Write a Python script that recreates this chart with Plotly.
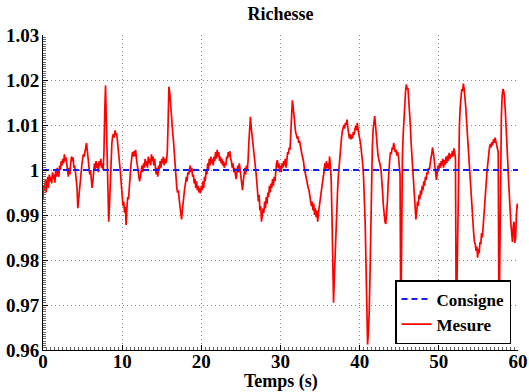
import plotly.graph_objects as go

# Sampling times (s): one sample every 0.1 s from 0 to 60
temps = [i / 10 for i in range(601)]

mesure = [
    0.9935, 0.9965, 0.9955, 0.9980, 0.9950, 0.9975, 0.9985, 0.9960, 0.9990, 0.9975,
    0.9985, 0.9970, 0.9995, 0.9980, 0.9990, 0.9972, 0.9998, 0.9985, 1.0005, 0.9990,
    0.9985, 1.0010, 1.0000, 1.0020, 1.0010, 1.0025, 1.0015, 1.0035, 1.0020, 1.0028,
    1.0010, 1.0000, 0.9985, 1.0005, 0.9990, 1.0015, 1.0030, 1.0020, 1.0028, 1.0005,
    1.0010, 0.9995, 0.9980, 0.9960, 0.9915, 0.9935, 0.9960, 0.9985, 0.9995, 1.0010,
    1.0025, 1.0035, 1.0030, 1.0045, 1.0050, 1.0060, 1.0045, 1.0025, 1.0005, 0.9990,
    1.0000, 0.9980, 0.9960, 0.9975, 0.9995, 1.0015, 1.0000, 1.0020, 1.0005, 1.0015,
    0.9995, 1.0020, 1.0010, 1.0025, 1.0005, 1.0015, 1.0000, 1.0040, 1.0130, 1.0188,
    1.0110, 1.0020, 0.9940, 0.9885, 0.9920, 0.9980, 1.0030, 1.0060, 1.0075, 1.0080,
    1.0072, 1.0088, 1.0078, 1.0082, 1.0065, 1.0050, 1.0030, 1.0010, 0.9990, 0.9970,
    0.9935, 0.9920, 0.9930, 0.9905, 0.9918, 0.9878, 0.9915, 0.9940, 0.9935, 0.9965,
    0.9990, 1.0010, 1.0025, 1.0040, 1.0030, 1.0042, 1.0030, 1.0045, 1.0025, 1.0010,
    1.0000, 0.9990, 0.9975, 0.9985, 1.0000, 1.0010, 0.9995, 1.0015, 1.0005, 1.0025,
    1.0010, 1.0020, 1.0005, 1.0030, 1.0015, 1.0025, 1.0010, 1.0035, 1.0020, 1.0030,
    1.0010, 1.0025, 1.0005, 0.9990, 1.0005, 0.9985, 1.0010, 1.0000, 1.0020, 1.0005,
    1.0025, 1.0015, 1.0030, 1.0010, 1.0025, 1.0015, 1.0020, 1.0040, 1.0100, 1.0185,
    1.0175, 1.0150, 1.0110, 1.0095, 1.0080, 1.0060, 1.0035, 1.0010, 0.9975, 0.9960,
    0.9950, 0.9955, 0.9935, 0.9920, 0.9905, 0.9890, 0.9910, 0.9930, 0.9945, 0.9960,
    0.9970, 0.9985, 0.9975, 0.9995, 0.9990, 1.0005, 1.0010, 0.9995, 1.0005, 0.9985,
    0.9990, 0.9970, 0.9980, 0.9960, 0.9975, 0.9955, 0.9965, 0.9950, 0.9960, 0.9948,
    0.9965, 0.9955, 0.9975, 0.9960, 0.9985, 0.9975, 1.0000, 0.9990, 1.0015, 1.0000,
    1.0025, 1.0010, 1.0030, 1.0015, 1.0025, 1.0010, 1.0030, 1.0020, 1.0040, 1.0025,
    1.0045, 1.0030, 1.0040, 1.0020, 1.0030, 1.0015, 1.0025, 1.0010, 1.0020, 1.0005,
    1.0015, 1.0010, 1.0030, 1.0025, 1.0040, 1.0030, 1.0042, 1.0025, 1.0020, 1.0005,
    1.0015, 0.9995, 1.0005, 0.9990, 0.9980, 0.9995, 1.0010, 0.9995, 1.0015, 1.0000,
    0.9985, 0.9970, 0.9955, 0.9975, 0.9995, 1.0005, 0.9990, 1.0010, 1.0000, 1.0020,
    1.0060, 1.0110, 1.0118, 1.0095, 1.0080, 1.0060, 1.0045, 1.0030, 1.0010, 0.9995,
    0.9975, 0.9955, 0.9930, 0.9945, 0.9910, 0.9920, 0.9885, 0.9900, 0.9915, 0.9905,
    0.9930, 0.9915, 0.9940, 0.9925, 0.9950, 0.9940, 0.9965, 0.9950, 0.9970, 0.9960,
    0.9980, 0.9965, 0.9985, 0.9975, 1.0000, 1.0015, 1.0022, 1.0005, 1.0015, 0.9995,
    1.0010, 0.9995, 1.0015, 1.0005, 1.0020, 1.0010, 1.0025, 1.0005, 1.0020, 1.0040,
    1.0035, 1.0050, 1.0045, 1.0080, 1.0130, 1.0155, 1.0140, 1.0115, 1.0100, 1.0085,
    1.0078, 1.0070, 1.0075, 1.0060, 1.0065, 1.0050, 1.0045, 1.0035, 1.0030, 1.0020,
    1.0005, 0.9995, 0.9985, 0.9975, 0.9970, 0.9960, 0.9955, 0.9945, 0.9935, 0.9920,
    0.9930, 0.9910, 0.9925, 0.9900, 0.9915, 0.9895, 0.9910, 0.9885, 0.9905, 0.9920,
    0.9935, 0.9945, 0.9960, 0.9970, 0.9985, 0.9995, 1.0015, 1.0000, 1.0020, 1.0005,
    1.0015, 1.0000, 1.0030, 1.0010, 0.9980, 0.9900, 0.9800, 0.9705, 0.9760, 0.9820,
    0.9860, 0.9900, 0.9950, 0.9985, 1.0010, 1.0030, 1.0055, 1.0070, 1.0085, 1.0095,
    1.0100, 1.0092, 1.0105, 1.0100, 1.0112, 1.0095, 1.0085, 1.0070, 1.0080, 1.0068,
    1.0078, 1.0070, 1.0085, 1.0078, 1.0090, 1.0098, 1.0088, 1.0105, 1.0090, 1.0080,
    1.0075, 1.0060, 1.0045, 1.0030, 1.0010, 0.9980, 0.9940, 0.9880, 0.9790, 0.9700,
    0.9612, 0.9640, 0.9680, 0.9760, 0.9880, 0.9990, 1.0050, 1.0090, 1.0110, 1.0120,
    1.0100, 1.0075, 1.0050, 1.0035, 1.0025, 1.0020, 1.0010, 1.0000, 0.9980, 0.9950,
    0.9920, 0.9900, 0.9885, 0.9880, 0.9900, 0.9930, 0.9970, 1.0005, 1.0025, 1.0040,
    1.0035, 1.0050, 1.0045, 1.0060, 1.0050, 1.0040, 1.0045, 1.0032, 1.0040, 1.0030,
    1.0010, 0.9990, 0.9640, 0.9900, 1.0030, 1.0080, 1.0120, 1.0150, 1.0175, 1.0190,
    1.0180, 1.0182, 1.0160, 1.0130, 1.0100, 1.0060, 1.0030, 0.9990, 0.9960, 0.9925,
    0.9900, 0.9890, 0.9905, 0.9930, 0.9920, 0.9945, 0.9935, 0.9955, 0.9945, 0.9965,
    0.9955, 0.9975, 0.9965, 0.9985, 0.9978, 0.9995, 0.9990, 1.0005, 1.0000, 1.0020,
    1.0025, 1.0035, 1.0050, 1.0040, 1.0020, 1.0005, 0.9990, 0.9978, 0.9995, 1.0010,
    1.0000, 1.0015, 1.0005, 1.0020, 1.0010, 1.0025, 1.0005, 1.0022, 1.0012, 1.0030,
    1.0015, 1.0032, 1.0020, 1.0038, 1.0025, 1.0035, 1.0028, 1.0042, 1.0030, 1.0048,
    1.0040, 1.0025, 0.9640, 0.9750, 0.9950, 1.0050, 1.0100, 1.0140, 1.0165, 1.0180,
    1.0175, 1.0192, 1.0180, 1.0165, 1.0140, 1.0110, 1.0080, 1.0050, 1.0020, 0.9990,
    0.9960, 0.9930, 0.9900, 0.9880, 0.9860, 0.9840, 0.9835, 0.9820, 0.9830, 0.9805,
    0.9825, 0.9815, 0.9840, 0.9835, 0.9860, 0.9850, 0.9880, 0.9890, 0.9920, 0.9950,
    0.9975, 1.0000, 1.0020, 1.0040, 1.0050, 1.0058, 1.0050, 1.0062, 1.0055, 1.0068,
    1.0060, 1.0072, 1.0065, 1.0060, 1.0050, 1.0040, 0.9640, 0.9800, 1.0000, 1.0120,
    1.0165, 1.0180, 1.0175, 1.0160, 1.0130, 1.0100, 1.0060, 1.0020, 0.9980, 0.9940,
    0.9900, 0.9880, 0.9860, 0.9840, 0.9875, 0.9885, 0.9838, 0.9850, 0.9900, 0.9925,
    0.9915,
]
assert len(mesure) == len(temps)

consigne_t = [0, 60]
consigne_v = [1.0, 1.0]

x_ticks = [0, 10, 20, 30, 40, 50, 60]
y_ticks = [0.96, 0.97, 0.98, 0.99, 1.0, 1.01, 1.02, 1.03]
y_ticktext = ["0.96", "0.97", "0.98", "0.99", "1", "1.01", "1.02", "1.03"]

FONT = "Liberation Serif"
ftick = dict(family=FONT, size=19, color="black", weight="bold")
f18 = dict(family=FONT, size=18, color="black", weight="bold")

fig = go.Figure()
fig.add_trace(go.Scatter(
    x=temps, y=mesure, mode="lines", name="Mesure",
    line=dict(color="#ff0000", width=1.7), legendrank=2,
))
fig.add_trace(go.Scatter(
    x=consigne_t, y=consigne_v, mode="lines", name="Consigne",
    line=dict(color="#1a1aff", width=2, dash="6px,4px"), legendrank=1,
))

axis_common = dict(
    showgrid=True, gridcolor="#8a8a8a", griddash="1px,3px", gridwidth=1,
    zeroline=False, showline=True, linecolor="black", linewidth=1,
    ticks="inside", ticklen=5, tickcolor="black", tickwidth=1,
    tickfont=ftick, mirror=False, automargin=False,
)

fig.update_xaxes(
    range=[0, 60], tickvals=x_ticks, ticklabelstandoff=-6, **axis_common,
    minor=dict(ticks="inside", ticklen=3, dtick=0.5, tickcolor="#666", showgrid=False),
)
fig.update_yaxes(
    range=[0.96, 1.03], tickvals=y_ticks, ticktext=y_ticktext, ticklabelstandoff=-1,
    **axis_common,
    minor=dict(ticks="inside", ticklen=3, dtick=0.0005, tickcolor="#666", showgrid=False),
)

fig.add_annotation(
    text="Temps (s)", xref="paper", yref="paper", x=0.5, y=-31 / 315,
    xanchor="center", yanchor="middle", showarrow=False, font=f18,
)

fig.update_layout(
    width=529, height=392,
    margin=dict(l=43, r=11, t=35, b=42),
    paper_bgcolor="white", plot_bgcolor="white",
    font=dict(family=FONT, color="black"),
    title=dict(text="Richesse", x=0.5, xref="paper", xanchor="center",
               y=1 - 14 / 392, yanchor="middle",
               font=dict(family=FONT, size=18, color="black", weight="bold")),
    legend=dict(
        x=(511 - 43) / 475, xanchor="right", y=6 / 315, yanchor="bottom",
        bgcolor="white", bordercolor="black", borderwidth=1.5,
        font=dict(family=FONT, size=17, color="black", weight="bold"),
        tracegroupgap=0, itemwidth=30,
    ),
    showlegend=True,
)

fig.write_html(
    "out.html",
    config={"displayModeBar": False},
    post_script="document.body.style.margin='0';",
)
